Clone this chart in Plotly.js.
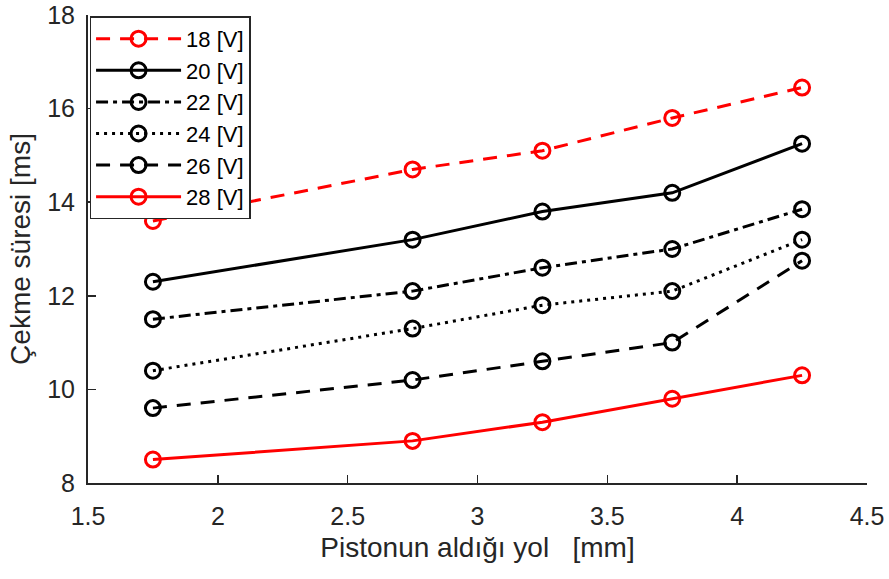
<!DOCTYPE html>
<html>
<head>
<meta charset="utf-8">
<script src="https://cdn.plot.ly/plotly-3.0.1.min.js"></script>
<style>html,body{margin:0;padding:0;background:#fff;}#chart{width:889px;height:579px;}</style>
</head>
<body>
<div id="chart"></div>
<script>
const xVals = [1.75, 2.75, 3.25, 3.75, 4.25];
const seriesNames = ["18 [V]", "20 [V]", "22 [V]", "24 [V]", "26 [V]", "28 [V]"];
const v18 = [13.6, 14.7, 15.1, 15.8, 16.45];
const v20 = [12.3, 13.2, 13.8, 14.2, 15.25];
const v22 = [11.5, 12.1, 12.6, 13.0, 13.85];
const v24 = [10.4, 11.3, 11.8, 12.1, 13.2];
const v26 = [9.6, 10.2, 10.6, 11.0, 12.75];
const v28 = [8.5, 8.9, 9.3, 9.8, 10.3];
const xTicks = [1.5, 2, 2.5, 3, 3.5, 4, 4.5];
const xTickText = ["1.5", "2", "2.5", "3", "3.5", "4", "4.5"];
const yTicks = [8, 10, 12, 14, 16, 18];
const xTitle = "Pistonun aldığı yol\u00a0\u00a0 [mm]";
const yTitle = "Çekme süresi [ms]";

const allY = [v18, v20, v22, v24, v26, v28];
const colors = ["#ff0000", "#000000", "#000000", "#000000", "#000000", "#ff0000"];
const dashes = ["14px,10px", "solid", "12px,5px,4px,5px", "3px,5px", "14px,10px", "solid"];

const traces = allY.map((ys, i) => ({
  x: xVals, y: ys, name: seriesNames[i], type: "scatter", mode: "lines+markers",
  line: {color: colors[i], width: 3, dash: dashes[i]},
  marker: {symbol: "circle-open", size: 15, color: colors[i], line: {color: colors[i], width: 3}}
}));

const axCol = "#262626";
const layout = {
  width: 889, height: 579,
  margin: {l: 88, r: 22, t: 15, b: 96},
  paper_bgcolor: "#fff", plot_bgcolor: "#fff",
  font: {family: "Liberation Sans, Arial, sans-serif", color: axCol, size: 18},
  showlegend: true,
  legend: {x: 0.002, y: 0.997, xanchor: "left", yanchor: "top",
    bordercolor: axCol, borderwidth: 1.5, bgcolor: "#fff",
    font: {size: 22, color: "#000"}, tracegroupgap: 0, itemwidth: 85},
  xaxis: {range: [1.5, 4.5], tickvals: xTicks, ticktext: xTickText,
    ticks: "inside", ticklen: 8, tickwidth: 1.5, tickcolor: axCol,
    showline: true, linecolor: axCol, linewidth: 2, showgrid: false, zeroline: false,
    tickfont: {size: 25, color: axCol}, ticklabelstandoff: 10,
    title: {text: xTitle, font: {size: 28, color: axCol}, standoff: 8}},
  yaxis: {range: [8, 18], tickvals: yTicks,
    ticks: "inside", ticklen: 8, tickwidth: 1.5, tickcolor: axCol,
    showline: true, linecolor: axCol, linewidth: 2, showgrid: false, zeroline: false,
    tickfont: {size: 25, color: axCol}, ticklabelstandoff: 6,
    title: {text: yTitle, font: {size: 28, color: axCol}, standoff: 8}}
};
Plotly.newPlot("chart", traces, layout, {displayModeBar: false, staticPlot: true});
</script>
</body>
</html>
